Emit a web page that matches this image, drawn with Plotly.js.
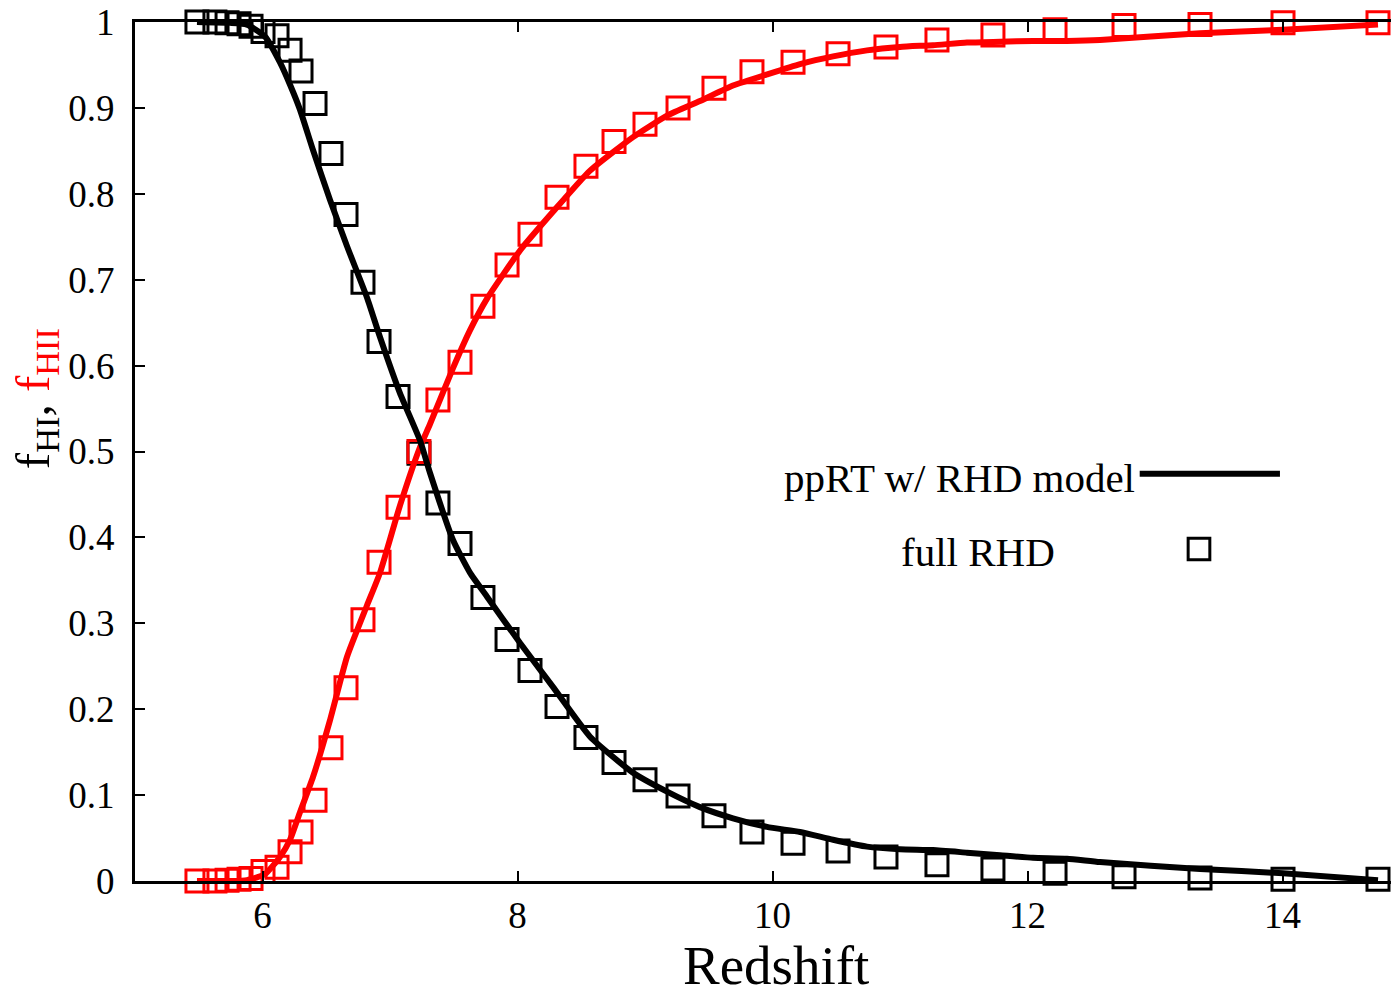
<!DOCTYPE html>
<html>
<head>
<meta charset="utf-8">
<script src="https://cdn.plot.ly/plotly-3.0.1.min.js"></script>
<style>
html,body{margin:0;padding:0;overflow:hidden;background:#fff;}
#chart{width:1420px;height:992px;}
</style>
</head>
<body>
<div id="chart"></div>
<script>
// Snapshot redshifts of the full RHD run (squares)
const rhdRedshift = [5.486,5.627,5.722,5.816,5.910,6.004,6.114,6.216,6.302,6.412,6.537,6.655,6.788,6.914,7.063,7.227,7.376,7.549,7.729,7.918,8.098,8.310,8.537,8.757,9.000,9.259,9.541,9.839,10.161,10.514,10.890,11.290,11.729,12.216,12.757,13.353,14.004,14.749];
const rhdHI  = [1.000,1.000,0.999,0.998,0.995,0.989,0.984,0.967,0.943,0.905,0.847,0.776,0.697,0.628,0.564,0.498,0.440,0.393,0.330,0.281,0.245,0.203,0.167,0.138,0.118,0.099,0.076,0.057,0.044,0.035,0.028,0.019,0.014,0.009,0.005,0.0035,0.002,0.002];
const rhdHII = [0.000,0.000,0.001,0.002,0.003,0.011,0.016,0.034,0.057,0.094,0.155,0.225,0.304,0.371,0.435,0.500,0.560,0.604,0.669,0.717,0.753,0.796,0.832,0.861,0.881,0.900,0.923,0.942,0.953,0.963,0.971,0.979,0.985,0.991,0.996,0.997,0.999,0.999];

// ppRT w/ RHD model (lines)
const modelRedshift = [5.486,5.745,5.878,6.020,6.137,6.216,6.294,6.396,6.529,6.663,6.820,6.922,7.078,7.235,7.314,7.494,7.627,7.761,8.020,8.278,8.569,8.906,9.173,9.431,9.690,9.957,10.216,10.475,10.741,11.000,11.259,11.525,11.784,12.043,12.310,12.569,13.353,14.004,14.749];
const modelHI  = [1.000,0.999,0.997,0.983,0.953,0.927,0.898,0.851,0.793,0.739,0.679,0.633,0.568,0.513,0.475,0.397,0.359,0.331,0.277,0.226,0.168,0.126,0.104,0.086,0.073,0.063,0.057,0.048,0.040,0.037,0.036,0.033,0.030,0.027,0.026,0.022,0.014,0.009,0.001];
const modelHII = [0.000,0.000,0.001,0.008,0.028,0.048,0.080,0.121,0.187,0.261,0.321,0.359,0.437,0.505,0.532,0.597,0.641,0.678,0.734,0.779,0.827,0.866,0.891,0.908,0.926,0.939,0.951,0.960,0.967,0.971,0.973,0.976,0.977,0.978,0.978,0.979,0.987,0.991,0.997];

const xTicks = [6,8,10,12,14];
const yTicks = [0,0.1,0.2,0.3,0.4,0.5,0.6,0.7,0.8,0.9,1];
const yTickText = ['0','0.1','0.2','0.3','0.4','0.5','0.6','0.7','0.8','0.9','1'];

const serif = 'Liberation Serif, Times New Roman, serif';

const traces = [
  {x: rhdRedshift, y: rhdHI, mode: 'markers', type: 'scatter', cliponaxis: false,
   marker: {symbol: 'square-open', size: 22, color: '#000', line: {width: 3, color: '#000'}}},
  {x: rhdRedshift, y: rhdHII, mode: 'markers', type: 'scatter', cliponaxis: false,
   marker: {symbol: 'square-open', size: 22, color: '#ff0000', line: {width: 3, color: '#ff0000'}}},
  {x: modelRedshift, y: modelHII, mode: 'lines', type: 'scatter', cliponaxis: false,
   line: {color: '#ff0000', width: 6, shape: 'spline', smoothing: 0.5}},
  {x: modelRedshift, y: modelHI, mode: 'lines', type: 'scatter', cliponaxis: false,
   line: {color: '#000', width: 6, shape: 'spline', smoothing: 0.5}}
];

const layout = {
  width: 1420, height: 992,
  margin: {l: 135, r: 10, t: 22, b: 111},
  paper_bgcolor: '#fff', plot_bgcolor: '#fff',
  showlegend: false,
  font: {family: serif, color: '#000'},
  xaxis: {
    range: [5, 15], tickvals: xTicks, ticktext: xTicks.map(String),
    ticks: 'inside', ticklen: 10, tickwidth: 2, tickcolor: '#000',
    showline: true, linewidth: 3, linecolor: '#000', mirror: 'ticks',
    showgrid: false, zeroline: false,
    tickfont: {family: serif, size: 37, color: '#000'},
    ticklabelstandoff: 0
  },
  yaxis: {
    range: [0, 1], tickvals: yTicks, ticktext: yTickText,
    ticks: 'inside', ticklen: 10, tickwidth: 2, tickcolor: '#000',
    showline: true, linewidth: 3, linecolor: '#000', mirror: 'ticks',
    showgrid: false, zeroline: false,
    tickfont: {family: serif, size: 37, color: '#000'},
    ticklabelstandoff: 10
  },
  annotations: [
    {xref: 'paper', yref: 'paper', x: 0.503, y: -0.098, xanchor: 'center', yanchor: 'middle',
     showarrow: false, borderpad: 0, text: 'Redshift', font: {family: serif, size: 55, color: '#000'}},
    {xref: 'paper', yref: 'paper', x: -0.0785, y: 0.562, xanchor: 'center', yanchor: 'middle',
     textangle: -90, showarrow: false,
     text: 'f<sub>HI</sub>, <span style="color:#ff0000">f<sub>HII</sub></span>',
     font: {family: serif, size: 49, color: '#000'}},
    {xref: 'paper', yref: 'paper', x: 0.786, y: 0.469, xanchor: 'right', yanchor: 'middle',
     showarrow: false, text: 'ppRT w/ RHD model', font: {family: serif, size: 41, color: '#000'}},
    {xref: 'paper', yref: 'paper', x: 0.723, y: 0.383, xanchor: 'right', yanchor: 'middle',
     showarrow: false, text: 'full RHD', font: {family: serif, size: 41, color: '#000'}}
  ],
  shapes: [
    {type: 'line', xref: 'paper', yref: 'paper', x0: 0.788, x1: 0.898, y0: 0.474, y1: 0.474,
     line: {color: '#000', width: 6}},
    {type: 'rect', xref: 'paper', yref: 'paper', x0: 0.8345 - 0.0085, x1: 0.8345 + 0.0085,
     y0: 0.3865 - 0.0126, y1: 0.3865 + 0.0126, line: {color: '#000', width: 3}}
  ]
};

Plotly.newPlot('chart', traces, layout, {displayModeBar: false, staticPlot: true});
</script>
</body>
</html>
